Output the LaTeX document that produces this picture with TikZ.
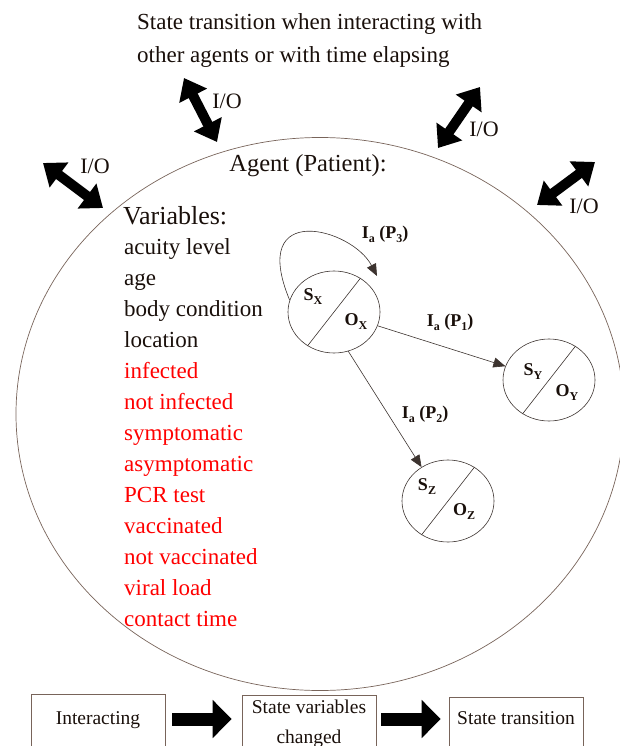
\documentclass[tikz,border=0pt]{standalone}
\usepackage{fontspec}
\setmainfont{Liberation Serif}
\usepackage{tikz}
\usetikzlibrary{positioning, shapes.geometric, arrows.meta}

\definecolor{ink}{RGB}{25,15,10}
\definecolor{rim}{RGB}{120,100,90}
\newcommand{\lowr}[1]{\raisebox{-4pt}{\fontsize{12}{12}\selectfont #1}}

\begin{document}
\begin{tikzpicture}[x=1pt, y=-1pt, every node/.style={text=ink, inner sep=0pt},
    state/.style={draw=ink!85, ellipse, minimum width=92pt, minimum height=82pt, line width=0.6pt},
    tag/.style={font=\fontsize{18}{18}\selectfont\bfseries},
    trans/.style={draw=ink!85, line width=0.6pt, -{Triangle[length=12pt, width=10pt]}},
    io/.style={draw=black, line width=10pt, {Triangle[length=20pt, width=30pt]}-{Triangle[length=20pt, width=30pt]}},
    iotag/.style={font=\fontsize{22}{22}\selectfont},
    box/.style={draw=rim, line width=0.6pt, minimum width=134pt, font=\fontsize{19.5}{30}\selectfont, anchor=north},
    block/.style={draw=black, line width=13pt, -{Triangle[length=19pt, width=37pt]}}]
    \useasboundingbox (0,0) rectangle (619,746);

    \node (title) [anchor=north west, align=left, font=\fontsize{23}{33}\selectfont] at (137,13) {State transition when interacting with\\other agents or with time elapsing};

    \node (agent) [draw=rim, ellipse, line width=0.7pt, minimum width=608pt, minimum height=553pt] at (320,414) {};
    \node (agentname) [font=\fontsize{24.5}{24.5}\selectfont] at (308,166) {Agent (Patient):};
    \node (varhead) [anchor=west, font=\fontsize{26}{26}\selectfont] at (123,216) {Variables:};
    \node (vars) [anchor=north west, align=left, font=\fontsize{23}{31}\selectfont] at (124,238) {
        acuity level\\
        age\\
        body condition\\
        location\\
        \textcolor{red}{infected}\\
        \textcolor{red}{not infected}\\
        \textcolor{red}{symptomatic}\\
        \textcolor{red}{asymptomatic}\\
        \textcolor{red}{PCR test}\\
        \textcolor{red}{vaccinated}\\
        \textcolor{red}{not vaccinated}\\
        \textcolor{red}{viral load}\\
        \textcolor{red}{contact time}
    };

    % I/O exchanges
    \coordinate (ioa1) at (43,163);   \coordinate (ioa2) at (103,208);
    \coordinate (iob1) at (184,78);   \coordinate (iob2) at (217,142);
    \coordinate (ioc1) at (480,87);   \coordinate (ioc2) at (438,148);
    \coordinate (iod1) at (595,162);  \coordinate (iod2) at (537,205);
    \draw[io] (ioa1) -- (ioa2);
    \draw[io] (iob1) -- (iob2);
    \draw[io] (ioc1) -- (ioc2);
    \draw[io] (iod1) -- (iod2);
    \node (ioa) [iotag] at (95,166) {I/O};
    \node (iob) [iotag] at (227,101) {I/O};
    \node (ioc) [iotag] at (484,129) {I/O};
    \node (iod) [iotag] at (584,206) {I/O};

    % states
    \node (sx) [state] at (334,312) {};
    \node (sy) [state] at (549,380) {};
    \node (sz) [state] at (448,501) {};
    \draw[draw=ink!85, line width=0.6pt] (sx.232) -- (sx.52);
    \draw[draw=ink!85, line width=0.6pt] (sy.232) -- (sy.52);
    \draw[draw=ink!85, line width=0.6pt] (sz.232) -- (sz.52);
    \node (sxs) [tag] at ([shift={(-21,-15)}]sx.center) {S\lowr{X}};
    \node (sxo) [tag] at ([shift={(22,10)}]sx.center) {O\lowr{X}};
    \node (sys) [tag] at ([shift={(-16,-8)}]sy.center) {S\lowr{Y}};
    \node (syo) [tag] at ([shift={(18,13)}]sy.center) {O\lowr{Y}};
    \node (szs) [tag] at ([shift={(-21,-14)}]sz.center) {S\lowr{Z}};
    \node (szo) [tag] at ([shift={(16,11)}]sz.center) {O\lowr{Z}};

    \coordinate (loopend) at (377,276);
    \draw[trans] (sx.165) .. controls (248,200) and (352,228) .. (loopend);
    \draw[trans] (sx) -- (sy);
    \draw[trans] (sx.290) -- (sz.128);
    \node (l3) [tag] at (385,234) {I\lowr{a}\ (P\lowr{3})};
    \node (l1) [tag] at (450,322) {I\lowr{a}\ (P\lowr{1})};
    \node (l2) [tag] at (425,414) {I\lowr{a}\ (P\lowr{2})};

    % bottom chain
    \node (interact) [box, text height=14pt, text depth=40pt, inner ysep=16pt] at (98,694) {Interacting};
    \node (changed) [box, text height=14pt, text depth=40pt, inner ysep=4pt] at (309,695) {\begin{tabular}[t]{@{}c@{}}State variables\\changed\end{tabular}};
    \node (transition) [box, text height=14pt, text depth=40pt, inner ysep=13pt] at (516,697) {State transition};
    \draw[block] ([shift={(7,25)}]interact.north east) -- ([shift={(-10,24)}]changed.north west);
    \draw[block] ([shift={(5,24)}]changed.north east) -- ([shift={(-8,22)}]transition.north west);
\end{tikzpicture}
\end{document}
